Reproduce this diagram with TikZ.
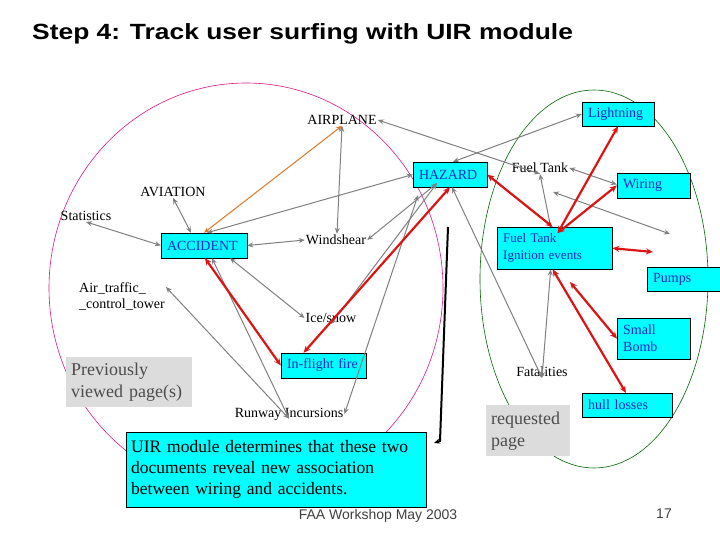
\documentclass[tikz,border=0pt]{standalone}
\usepackage{fontspec}
\setmainfont{Liberation Serif}
\newfontfamily\sans{Liberation Sans}
\usetikzlibrary{arrows.meta}
\definecolor{cy}{RGB}{0,255,255}
\definecolor{bt}{RGB}{30,40,200}
\definecolor{gb}{RGB}{220,220,220}
\definecolor{gr}{RGB}{128,128,128}
\definecolor{rd}{RGB}{220,20,20}
\definecolor{org}{RGB}{220,120,40}
\begin{document}
\begin{tikzpicture}[x=1pt,y=-1pt,
 box/.style={draw=black,fill=cy,text=bt,font=\fontsize{14}{17}\selectfont,inner xsep=6pt,inner ysep=2pt,align=left,text width=#1},
 lab/.style={font=\fontsize{14}{16}\selectfont,inner sep=1pt,align=left},
 gbox/.style={fill=gb,text=black!70,font=\fontsize{18}{22}\selectfont,align=left,inner sep=5pt,text width=#1},
 ga/.style={gr,line width=1pt,{Stealth[length=6pt,width=5pt]}-{Stealth[length=6pt,width=5pt]}},
 ra/.style={rd,line width=2.2pt,{Stealth[length=7pt,width=6pt]}-{Stealth[length=7pt,width=6pt]}}]
\useasboundingbox (0,0) rectangle (720,540);
\fill[white] (0,0) rectangle (720,540);
\node[anchor=base west,font=\sans\bfseries\fontsize{22}{24}\selectfont,inner sep=0] (title) at (32,40) {\scalebox{1.2}[1]{Step 4: Track user surfing with UIR module}};
% ellipses
\draw[magenta!80!violet,line width=0.6pt] (246,288) ellipse [x radius=197,y radius=205];
\draw[green!40!black,line width=0.6pt] (594,279) ellipse [x radius=114,y radius=189];
% boxes
\node[box=62,minimum height=25] (haz) at (450,174.5) {HAZARD};
\node[box=74,minimum height=25] (acc) at (204,245.5) {ACCIDENT};
\node[box=73,minimum height=25] (iff) at (323.5,365.5) {In-flight fire};
\node[box=60,minimum height=24] (lig) at (618,114) {Lightning};
\node[box=61,minimum height=25] (wir) at (653.5,185.5) {Wiring};
\node[box=103,minimum height=42,anchor=north west,font=\fontsize{13}{17}\selectfont] (fti) at (497,227) {Fuel Tank\\Ignition events};
\node[box=64,minimum height=24,anchor=north west] (pum) at (647,267) {Pumps};
\node[box=61,minimum height=41,anchor=north west] (bom) at (617,318) {Small\\Bomb};
\node[box=78,minimum height=24,anchor=north west] (hul) at (582,393) {hull losses};
\node[gbox=116,minimum height=50,anchor=north west] (prev) at (66,357) {Previously\\viewed page(s)};
\node[gbox=74,minimum height=51,anchor=north west] (req) at (486,405) {requested\\page};
\node[draw=black,fill=cy,font=\fontsize{17.5}{21}\selectfont,align=left,text width=290,minimum height=75,anchor=north west,inner sep=5pt] (uir) at (126,432) {UIR module determines that these two\\documents reveal new association\\between wiring and accidents.};
% labels
\node[lab] (air) at (342,120) {AIRPLANE};
\node[lab] (avi) at (173,192) {AVIATION};
\node[lab] (sta) at (86,216) {Statistics};
\node[lab] (win) at (336,240) {Windshear};
\node[lab,anchor=west] (atc) at (78,296) {Air\_traffic\_\\\_control\_tower};
\node[lab] (ice) at (331,318) {Ice/snow};
\node[lab] (run) at (289,414) {Runway Incursions};
\node[lab] (fue) at (540,168) {Fuel Tank};
\node[lab] (fat) at (542,372) {Fatalities};
\node[font=\sans\fontsize{14}{15}\selectfont,text=black!75] (foot) at (378,516) {FAA Workshop May 2003};
\node[font=\sans\fontsize{14}{15}\selectfont,text=black!75] (pg) at (664,514) {17};
\coordinate (p1) at (670,234);
\coordinate (p2) at (653,252);
\coordinate (p3) at (570,282);
\coordinate (p4) at (553,192);
% gray connectors
\draw[ga] ([xshift=3]haz.north) -- (lig.west);
\draw[ga] (air.east) -- ([yshift=-12]fue.north);
\draw[ga] (air.south) -- ([xshift=1]win.north);
\draw[org,line width=1pt,{Stealth[length=6pt,width=5pt]}-{Stealth[length=6pt,width=5pt]}] (air.south) -- (acc.north);
\draw[ga] ([xshift=3]acc.north) -- (haz.west);
\draw[ga] (avi.south) -- ([xshift=-13]acc.north);
\draw[ga] (sta.south) -- (acc.west);
\draw[ga] (acc.east) -- (win.west);
\draw[ga] ([xshift=26]acc.south) -- (ice.west);
\draw[ga] ([yshift=-6]atc.north east) -- ([yshift=-12]run.north);
\draw[ga] ([xshift=8]acc.south) -- ([yshift=-12]run.north);
\draw[ga] ([xshift=-13,yshift=4]haz.south) -- (win.east);
\draw[ga] ([xshift=-13,yshift=4]haz.south) -- ([yshift=-12]ice.north);
\draw[ga] ([xshift=-32,yshift=-8]haz.south) -- (run.east);
\draw[ga] ([xshift=2]haz.south) -- ([yshift=-12]fat.north);
\draw[gr,line width=1pt,-{Stealth[length=6pt,width=5pt]}] ([xshift=-4]fti.north) -- (fue.south);
\draw[ga] (fue.east) -- ([yshift=1]wir.west);
\draw[ga] (p4) -- (p1);
\draw[ga] ([xshift=-4]fti.south) -- ([yshift=-12]fat.north);
% red connectors
\draw[ra] ([xshift=1]acc.south) -- (iff.west);
\draw[ra] ([xshift=-20]iff.north) -- ([xshift=0]haz.south);
\draw[ra] (haz.east) -- ([xshift=-2]fti.north);
\draw[ra] (lig.south) -- ([xshift=3,yshift=-6]fti.north);
\draw[ra] (wir.west) -- ([xshift=3,yshift=-6]fti.north);
\draw[ra] (fti.east) -- (p2);
\draw[ra] ([xshift=-2]fti.south) -- ([xshift=44]hul.north west);
\draw[ra] (p3) -- (bom.west);
% black line
\coordinate (b1) at (448,227);
\coordinate (b2) at (434,443);
\draw[black,line width=2pt,-{Stealth[length=6pt,width=5pt]}] (b1) -- (440,441) -- (b2);
\end{tikzpicture}
\end{document}
